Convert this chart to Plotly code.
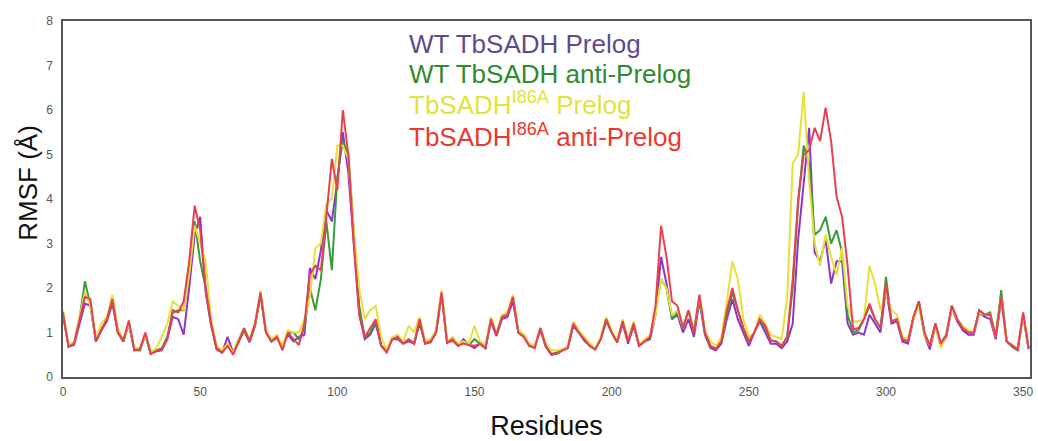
import plotly.graph_objects as go

residues = list(range(0, 353, 2))

wt_prelog = [
    1.4, 0.68, 0.72, 1.2, 1.65, 1.6, 0.8, 1.05, 1.25, 1.65,
    1.0, 0.8, 1.2, 0.6, 0.6, 0.95, 0.52, 0.58, 0.6, 0.85,
    1.35, 1.3, 0.95, 2.0, 3.2, 3.6, 1.9, 1.15, 0.62, 0.55,
    0.9, 0.55, 0.8, 1.05, 0.78, 1.15, 1.85, 1.0, 0.8, 0.88,
    0.7, 0.95, 0.8, 0.9, 0.95, 2.45, 2.2, 2.85, 3.75, 3.5,
    4.4, 5.5, 4.6, 2.9, 1.4, 0.85, 0.95, 1.2, 0.7, 0.6,
    0.85, 0.85, 0.75, 0.8, 0.75, 1.2, 0.75, 0.78, 1.0, 1.85,
    0.77, 0.82, 0.7, 0.85, 0.72, 0.65, 0.75, 0.65, 1.25, 0.92,
    1.3, 1.35, 1.7, 1.0, 0.9, 0.7, 0.7, 1.05, 0.68, 0.5,
    0.52, 0.6, 0.65, 1.15, 1.0, 0.82, 0.7, 0.62, 0.85, 1.25,
    1.0, 0.78, 1.2, 0.75, 1.15, 0.7, 0.8, 0.85, 1.4, 2.7,
    2.1, 1.3, 1.4, 1.0, 1.3, 0.9, 1.7, 0.95, 0.65, 0.6,
    0.75, 1.3, 1.75, 1.3, 1.0, 0.7, 1.0, 1.25, 1.0, 0.75,
    0.75, 0.65, 0.8, 1.2, 3.1, 4.4, 5.6, 2.8, 2.6, 3.1,
    2.1, 2.6, 2.6, 1.2, 0.95, 1.0, 0.95, 1.4, 1.2, 1.0,
    2.0, 1.2, 1.25, 0.8, 0.75, 1.3, 1.65, 0.95, 0.62, 1.15,
    0.7, 0.9, 1.55, 1.25, 1.05, 0.95, 0.95, 1.45, 1.35, 1.3,
    0.85, 1.75, 0.8, 0.68, 0.6, 1.4, 0.62,
]

wt_anti = [
    1.4, 0.7, 0.75, 1.3, 2.15, 1.6, 0.8, 1.05, 1.3, 1.7,
    1.0, 0.8, 1.22, 0.62, 0.6, 0.95, 0.52, 0.6, 0.65, 0.9,
    1.45, 1.5, 1.5, 2.3, 3.5, 2.6, 2.0, 1.2, 0.65, 0.55,
    0.75, 0.52, 0.8, 1.05, 0.8, 1.15, 1.85, 1.0, 0.8, 0.9,
    0.65, 1.0, 1.0, 0.85, 1.1, 2.0, 1.5, 2.2, 3.5, 2.4,
    4.5, 5.3, 5.0, 3.2, 1.6, 0.9, 1.0, 1.25, 0.7, 0.58,
    0.85, 0.9, 0.75, 0.85, 0.75, 1.25, 0.78, 0.8, 1.0, 1.9,
    0.8, 0.85, 0.7, 0.8, 0.72, 0.85, 0.75, 0.65, 1.3, 0.95,
    1.35, 1.4, 1.8, 1.0, 0.95, 0.7, 0.7, 1.1, 0.7, 0.52,
    0.55, 0.6, 0.65, 1.2, 1.0, 0.85, 0.7, 0.62, 0.85, 1.3,
    1.0, 0.78, 1.25, 0.8, 1.2, 0.7, 0.8, 0.9, 1.5, 2.2,
    2.0, 1.3, 1.45, 1.1, 1.5, 1.0, 1.8, 1.0, 0.7, 0.63,
    0.8, 1.4, 1.9, 1.5, 1.1, 0.8, 1.0, 1.3, 1.1, 0.82,
    0.8, 0.7, 0.9, 2.0, 3.9, 5.2, 4.8, 3.2, 3.3, 3.6,
    3.0, 3.3, 2.8, 1.4, 1.0, 1.05, 1.3, 1.6, 1.3, 1.1,
    2.25, 1.25, 1.3, 0.85, 0.8, 1.35, 1.7, 1.0, 0.7, 1.2,
    0.75, 0.95, 1.6, 1.3, 1.1, 1.0, 1.0, 1.5, 1.4, 1.45,
    0.9, 1.95, 0.8, 0.7, 0.62, 1.4, 0.65,
]

i86a_prelog = [
    1.5, 0.7, 0.8, 1.35, 1.9, 1.6, 0.85, 1.2, 1.35, 1.85,
    1.1, 0.85, 1.2, 0.65, 0.65, 0.95, 0.55, 0.65, 0.9, 1.2,
    1.7, 1.6, 1.5, 2.3, 3.4, 3.0, 2.6, 1.3, 0.7, 0.6,
    0.75, 0.55, 0.85, 1.1, 0.85, 1.2, 1.95, 1.05, 0.85, 0.95,
    0.7, 1.05, 1.0, 1.0, 1.3, 1.8, 2.9, 3.0, 3.9, 4.0,
    5.2, 5.2, 4.9, 3.3, 2.0, 1.3, 1.5, 1.6, 0.9, 0.62,
    0.9, 0.95, 0.8, 1.15, 1.0, 1.35, 0.8, 0.85, 1.05, 1.95,
    0.8, 0.9, 0.75, 0.8, 0.75, 1.15, 0.8, 0.7, 1.35, 1.0,
    1.4, 1.45, 1.85, 1.05, 0.95, 0.75, 0.7, 1.1, 0.75, 0.6,
    0.6, 0.62, 0.7, 1.25, 1.05, 0.9, 0.75, 0.65, 0.9, 1.35,
    1.05, 0.8, 1.3, 0.85, 1.25, 0.72, 0.85, 0.95, 1.4, 2.2,
    2.0, 1.4, 1.5, 1.1, 1.5, 1.05, 1.8, 1.05, 0.8, 0.7,
    0.9, 1.7, 2.6, 2.2, 1.3, 0.9, 1.0, 1.4, 1.2, 0.95,
    0.9, 0.85, 1.8, 4.8, 5.0, 6.4, 4.4, 3.0, 2.5, 3.2,
    2.7, 2.3, 2.9, 1.6, 1.25, 1.25, 1.3, 2.5, 2.1, 1.5,
    1.9, 1.5, 1.4, 0.9, 0.85, 1.3, 1.6, 0.95, 0.7, 1.15,
    0.65, 0.95, 1.55, 1.3, 1.15, 1.05, 1.0, 1.45, 1.4, 1.4,
    0.9, 1.8, 0.8, 0.72, 0.65, 1.4, 0.65,
]

i86a_anti = [
    1.45, 0.68, 0.75, 1.25, 1.8, 1.75, 0.8, 1.07, 1.3, 1.75,
    1.0, 0.82, 1.27, 0.6, 0.62, 1.0, 0.52, 0.58, 0.62, 0.85,
    1.5, 1.45, 1.7, 2.6, 3.85, 3.3, 2.0, 1.2, 0.65, 0.55,
    0.7, 0.5, 0.8, 1.1, 0.8, 1.2, 1.9, 1.0, 0.8, 0.9,
    0.6, 1.0, 0.85, 0.72, 1.2, 2.3, 2.5, 2.4, 3.6, 4.9,
    4.2, 6.0, 5.0, 3.0, 1.4, 0.9, 1.1, 1.3, 0.7, 0.55,
    0.85, 0.9, 0.75, 0.85, 0.75, 1.3, 0.75, 0.8, 1.0, 1.9,
    0.77, 0.85, 0.7, 0.75, 0.72, 0.7, 0.75, 0.65, 1.3, 0.95,
    1.35, 1.4, 1.8, 1.0, 0.9, 0.7, 0.65, 1.1, 0.7, 0.5,
    0.52, 0.6, 0.65, 1.2, 1.0, 0.85, 0.7, 0.62, 0.85, 1.3,
    1.0, 0.78, 1.26, 0.8, 1.2, 0.7, 0.8, 0.9, 1.6, 3.4,
    2.7, 1.7, 1.6, 1.1, 1.5, 1.0, 1.85, 1.0, 0.7, 0.63,
    0.8, 1.5, 2.0, 1.5, 1.1, 0.8, 1.0, 1.3, 1.15, 0.82,
    0.8, 0.7, 0.9, 2.2, 4.0, 5.0, 5.1, 5.6, 5.3, 6.05,
    5.3, 4.05, 3.6, 2.5, 1.07, 1.1, 1.3, 1.65, 1.3, 1.1,
    2.1, 1.25, 1.3, 0.85, 0.8, 1.35, 1.7, 1.0, 0.7, 1.2,
    0.75, 0.95, 1.6, 1.3, 1.1, 1.0, 1.0, 1.5, 1.4, 1.4,
    0.9, 1.8, 0.8, 0.7, 0.62, 1.45, 0.65,
]

series_names = ["WT TbSADH Prelog", "WT TbSADH anti-Prelog",
                "TbSADH<sup>I86A</sup> Prelog", "TbSADH<sup>I86A</sup> anti-Prelog"]
series_values = [wt_prelog, wt_anti, i86a_prelog, i86a_anti]
line_colors = ["#8E35C8", "#3C9A3C", "#E6E03A", "#E8404F"]
text_colors = ["#5E4A8E", "#2E8B2E", "#E2E23C", "#E83A30"]

x_ticks = [0, 50, 100, 150, 200, 250, 300, 350]
y_ticks = [0, 1, 2, 3, 4, 5, 6, 7, 8]

FONT = "Liberation Sans, Arial, sans-serif"

fig = go.Figure()
for name, vals, col in zip(series_names, series_values, line_colors):
    fig.add_trace(go.Scatter(x=residues, y=vals, mode="lines", name=name,
                             line=dict(color=col, width=2), showlegend=False))

legend_y = [0.936, 0.852, 0.767, 0.678]
for name, col, yy in zip(series_names, text_colors, legend_y):
    fig.add_annotation(x=0.356, y=yy, xref="paper", yref="paper",
                       xanchor="left", yanchor="middle", showarrow=False,
                       text=name, font=dict(family=FONT, size=26, color=col))

fig.add_annotation(x=-0.0371, y=0.546, xref="paper", yref="paper", text="RMSF (Å)",
                   showarrow=False, textangle=-90, xanchor="center", yanchor="middle",
                   font=dict(family=FONT, size=26, color="#111111"))

axis_common = dict(showline=True, mirror=True, linecolor="#555555", linewidth=1.5,
                   showgrid=False, zeroline=False, ticks="",
                   tickfont=dict(family=FONT, size=12, color="#555555"))

fig.update_layout(
    width=1038, height=441,
    margin=dict(l=63, r=5, t=21, b=63),
    paper_bgcolor="white", plot_bgcolor="white",
    font=dict(family=FONT),
    xaxis=dict(range=[0, 352.5], tickvals=x_ticks, ticklabelstandoff=3,
               title=dict(text="Residues", font=dict(family=FONT, size=27, color="#111111"),
                          standoff=18),
               **axis_common),
    yaxis=dict(range=[0, 8], tickvals=y_ticks, ticklabelstandoff=6, **axis_common),
)

fig.write_html("out.html")
